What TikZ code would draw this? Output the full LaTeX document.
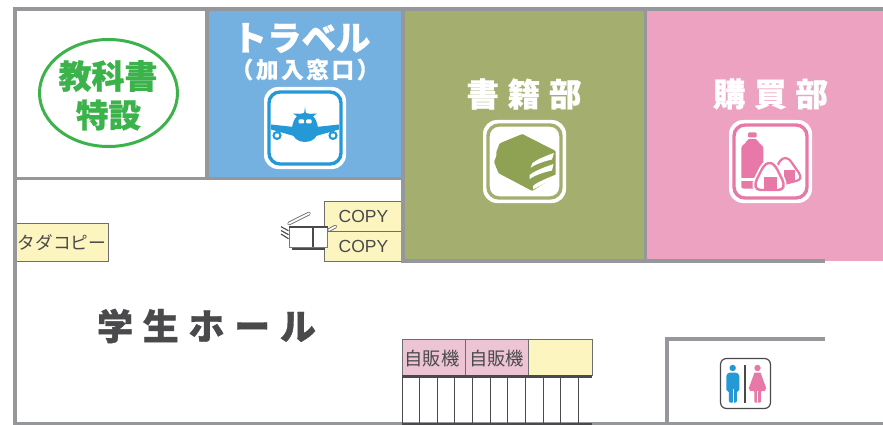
\documentclass[tikz,border=0pt]{standalone}
\usepackage{fontspec}
\setmainfont{Liberation Sans}
\newfontfamily\jp{Noto Sans CJK JP}
\definecolor{wallc}{HTML}{96979B}
\definecolor{bluec}{HTML}{74B0E0}
\definecolor{greenc}{HTML}{A4AE6E}
\definecolor{pinkc}{HTML}{ECA2C0}
\definecolor{yelc}{HTML}{FDF5C0}
\definecolor{vendc}{HTML}{ECC4D4}
\definecolor{txtg}{HTML}{3CB24A}
\definecolor{iconb}{HTML}{2598D6}
\definecolor{bookc}{HTML}{8FA152}
\definecolor{iconp}{HTML}{E778A8}
\definecolor{darkc}{HTML}{4A4A4C}
\tikzset{
  wall/.style={draw=wallc,line width=3.6pt},
  signbox/.style={draw=darkc!80,line width=0.8pt,fill=yelc},
  lbl/.style={inner sep=0pt,text=darkc},
  title/.style={inner sep=0pt,text=white}
}
\begin{document}
\begin{tikzpicture}[x=1pt,y=-1pt]
\useasboundingbox (0,0) rectangle (883,425);
% coloured rooms
\fill[bluec] (207,9) rectangle (403,178);
\fill[greenc] (403,9) rectangle (646,261);
\fill[pinkc] (646,9) rectangle (883,261);
% signs under walls
\draw[signbox] (402,201) -- (324,201) -- (324,261) -- (402,261);
\draw[draw=darkc!80,line width=0.8pt] (324,231) -- (402,231);
\draw[signbox] (15,223) -- (108,223) -- (108,261) -- (15,261);
% walls
\draw[wall] (883,9.2) -- (15,9.2) -- (15,425);
\draw[wall] (207,9) -- (207,178);
\draw[wall] (15,178.3) -- (403,178.3);
\draw[wall] (402.8,9) -- (402.8,262);
\draw[wall] (645.5,9) -- (645.5,261);
\draw[wall] (401,260.7) -- (825,260.7);
\draw[wall] (825,339) -- (667,339) -- (667,425);
\draw[draw=wallc,line width=3pt] (13,423.5) -- (883,423.5);
% textbook oval
\draw[txtg,line width=3pt] (108.5,93) ellipse [x radius=69,y radius=53.5];
\node[inner sep=0pt,text=txtg,font=\jp\bfseries\fontsize{33}{33}\selectfont\addfontfeature{FakeBold=0.8}] (tb1) at (108,76) {教科書};
\node[inner sep=0pt,text=txtg,font=\jp\bfseries\fontsize{32.5}{33}\selectfont\addfontfeature{FakeBold=0.8}] (tb2) at (108.5,115) {特設};
% travel
\node[title,font=\jp\bfseries\fontsize{34.5}{36}\selectfont\addfontfeature{FakeBold=0.8}] (tr) at (301.5,38) {トラベル};
\node[title,font=\jp\bfseries\fontsize{22.5}{23}\selectfont\addfontfeature{LetterSpace=12,FakeBold=0.5}] (kn) at (305,69.5) {（加入窓口）};
% plane icon
\fill[white,rounded corners=14pt] (264,87) rectangle (346,169);
\draw[iconb,line width=3.4pt,rounded corners=11pt,fill=white] (269,92) rectangle (341,164);
\fill[iconb] (305,107) -- (306,114) -- (317,113.5) -- (312,117) -- (298,117) -- (293,113.5) -- (304,114) -- cycle;
\fill[iconb] (305,113) .. controls (314,113) and (318,122) .. (318,130) .. controls (318,138) and (312,142) .. (305,142) .. controls (298,142) and (292,138) .. (292,130) .. controls (292,122) and (296,113) .. (305,113) -- cycle;
\fill[iconb] (294,127) -- (271,124.5) -- (271,129.5) -- (294,136) -- cycle;
\fill[iconb] (316,127) -- (339,124.5) -- (339,129.5) -- (316,136) -- cycle;
\fill[iconb] (277,135.5) circle (4.6pt) (333,135.5) circle (4.6pt);
\fill[white] (277,135.5) circle (2.2pt) (333,135.5) circle (2.2pt);
\fill[white,rounded corners=1pt] (298.5,119.5) rectangle (304,123.5) (306,119.5) rectangle (311.5,123.5);
% book dept
\node[title,font=\jp\bfseries\fontsize{32.5}{33}\selectfont\addfontfeature{LetterSpace=27,FakeBold=0.6}] (bk) at (524,94) {書籍部};
\fill[white,rounded corners=14pt] (483,120) rectangle (566,203);
\draw[greenc,line width=3.4pt,rounded corners=11pt,fill=white] (488,125) rectangle (561,198);
\fill[bookc,rounded corners=1pt] (522.3,134) -- (555.7,151) -- (555.7,176) -- (532.3,191) -- (498.7,173.3) -- (496,167) -- (494,161.7) -- (496.5,156) -- (496.3,152) -- (499.7,143.3) -- cycle;
\fill[white] (554,153) .. controls (545,156) and (536,160) .. (532.3,163.3) -- (530.7,167.7) .. controls (536,164) and (545,161) .. (552,159.5) -- cycle;
\fill[white] (553.5,164) .. controls (545,167) and (534,171) .. (529.7,175) -- (529.7,179) .. controls (535,175) and (545,172) .. (552,170.5) -- cycle;
\fill[white] (556,174.5) .. controls (548,178) and (537,182) .. (533,186) -- (533,189.5) .. controls (540,186) and (548,181) .. (556,177.5) -- cycle;
% shop dept
\node[title,font=\jp\bfseries\fontsize{32.5}{33}\selectfont\addfontfeature{LetterSpace=27,FakeBold=0.6}] (sh) at (770.5,94) {購買部};
\fill[white,rounded corners=14pt] (729,120) rectangle (812,203);
\draw[iconp,line width=3.4pt,rounded corners=11pt,fill=white] (734,125) rectangle (807,198);
\fill[iconp,rounded corners=1pt] (748,132.5) rectangle (756.5,137.5);
\fill[iconp,rounded corners=2pt] (741.3,188.5) -- (741.3,150) .. controls (741.3,145) and (746,144) .. (747,139) -- (757.5,139) .. controls (758.5,144) and (763.3,145) .. (763.3,150) -- (763.3,188.5) -- cycle;
\fill[white] (741,178.2) rectangle (764,181);
% back rice ball
\draw[iconp,line width=2.2pt,fill=white] (785.7,158) .. controls (788,158) and (790,160) .. (792,163) -- (799,173) .. controls (802,178) and (800,180) .. (796,181) -- (784,184) -- (772,178) -- (776,168) -- (780,161) .. controls (781.5,159) and (783.5,158) .. (785.7,158) -- cycle;
\fill[iconp] (784,169.5) rectangle (794.5,181.5);
% front rice ball
\draw[white,line width=6pt,line join=round] (769.7,163) .. controls (773,163) and (775,166) .. (777,169) -- (782,179) .. controls (785,185) and (784,190) .. (778,190) -- (761,190) .. controls (755,190) and (754,185) .. (757,179) -- (762,169) .. controls (764,166) and (766,163) .. (769.7,163) -- cycle;
\draw[iconp,line width=2.4pt,fill=white] (769.7,163) .. controls (773,163) and (775,166) .. (777,169) -- (782,179) .. controls (785,185) and (784,190) .. (778,190) -- (761,190) .. controls (755,190) and (754,185) .. (757,179) -- (762,169) .. controls (764,166) and (766,163) .. (769.7,163) -- cycle;
\fill[iconp] (764,176.7) rectangle (776.7,190);
% hall
\node[inner sep=0pt,text=darkc,font=\jp\bfseries\fontsize{36}{36}\selectfont\addfontfeature{LetterSpace=27,FakeBold=1}] (hall) at (206.5,326) {学生ホール};
% copy labels
\node[lbl,font=\fontsize{17.5}{18}\selectfont] (c1) at (363.5,216.5) {COPY};
\node[lbl,font=\fontsize{17.5}{18}\selectfont] (c2) at (363.5,246.5) {COPY};
\node[lbl,font=\jp\fontsize{17.7}{18}\selectfont] (tc) at (62,243) {タダコピー};
% copier
\fill[darkc] (292,247) rectangle (325,249.5);
\draw[wallc!80!black,line width=1pt,fill=white] (289.3,226) rectangle (327.7,247.3);
\draw[darkc,line width=2.2pt] (289.3,227) -- (327.7,227);
\draw[darkc,line width=1.8pt] (312.7,227) -- (312.7,247.3);
\draw[darkc!80,line width=3.6pt,line cap=round] (289,223.5) -- (309,213.5);
\draw[white,line width=1.8pt,line cap=round] (289,223.5) -- (309,213.5);
\draw[darkc!80,line width=3.6pt,line cap=round] (329,230) -- (335.5,226.5);
\draw[white,line width=1.8pt,line cap=round] (329,230) -- (335.5,226.5);
\draw[darkc,line width=1.1pt] (281,226.7) -- (288.5,230.7) (281,230.5) -- (288.5,234.7) (281,234) -- (288.5,238.7);
% vending
\draw[darkc!80,line width=0.8pt,fill=vendc] (402,339) rectangle (465,375);
\draw[darkc!80,line width=0.8pt,fill=vendc] (465,339) rectangle (528,375);
\draw[darkc!80,line width=0.8pt,fill=yelc] (528,339) rectangle (592,375);
\node[lbl,font=\jp\fontsize{18.3}{18}\selectfont] (v1) at (432,358.5) {自販機};
\node[lbl,font=\jp\fontsize{18.3}{18}\selectfont] (v2) at (496.5,358.5) {自販機};
\foreach \xx in {402,419.3,437,454.7,472.3,490,507.7,525.3,543,560.7,578.7}{
  \draw[darkc,line width=0.8pt] (\xx,376) -- (\xx,423);
}
\draw[darkc,line width=2.6pt] (402,376.3) -- (592,376.3);
\draw[darkc,line width=1.6pt] (402,423.8) -- (592,423.8);
% restroom
\draw[darkc,line width=1.2pt,fill=white,rounded corners=6pt] (720.5,358.5) rectangle (770.5,408.5);
\draw[darkc,line width=1.2pt] (745,365) -- (745,402.7);
\fill[iconb] (732.7,368) circle (3.2pt);
\fill[iconb,rounded corners=1.2pt] (726.3,391) -- (726.3,375) -- (729,372.5) -- (736.5,372.5) -- (739.3,375) -- (739.3,391) -- (736.8,391) -- (736.8,402.5) -- (728.8,402.5) -- (728.8,391) -- cycle;
\draw[white,line width=0.4pt] (732.8,389) -- (732.8,402.5);
\fill[iconp] (757.5,368) circle (3.2pt);
\fill[iconp,rounded corners=0.8pt] (754.5,372.5) -- (760.5,372.5) -- (766.5,389) -- (764.8,389.8) -- (762.5,384) -- (765.5,391) -- (761,391) -- (761,402.5) -- (754.3,402.5) -- (754.3,391) -- (749.5,391) -- (752.5,384) -- (750.2,389.8) -- (748.5,389) -- cycle;
\draw[white,line width=0.5pt] (757.7,391) -- (757.7,402.5);
\end{tikzpicture}
\end{document}
